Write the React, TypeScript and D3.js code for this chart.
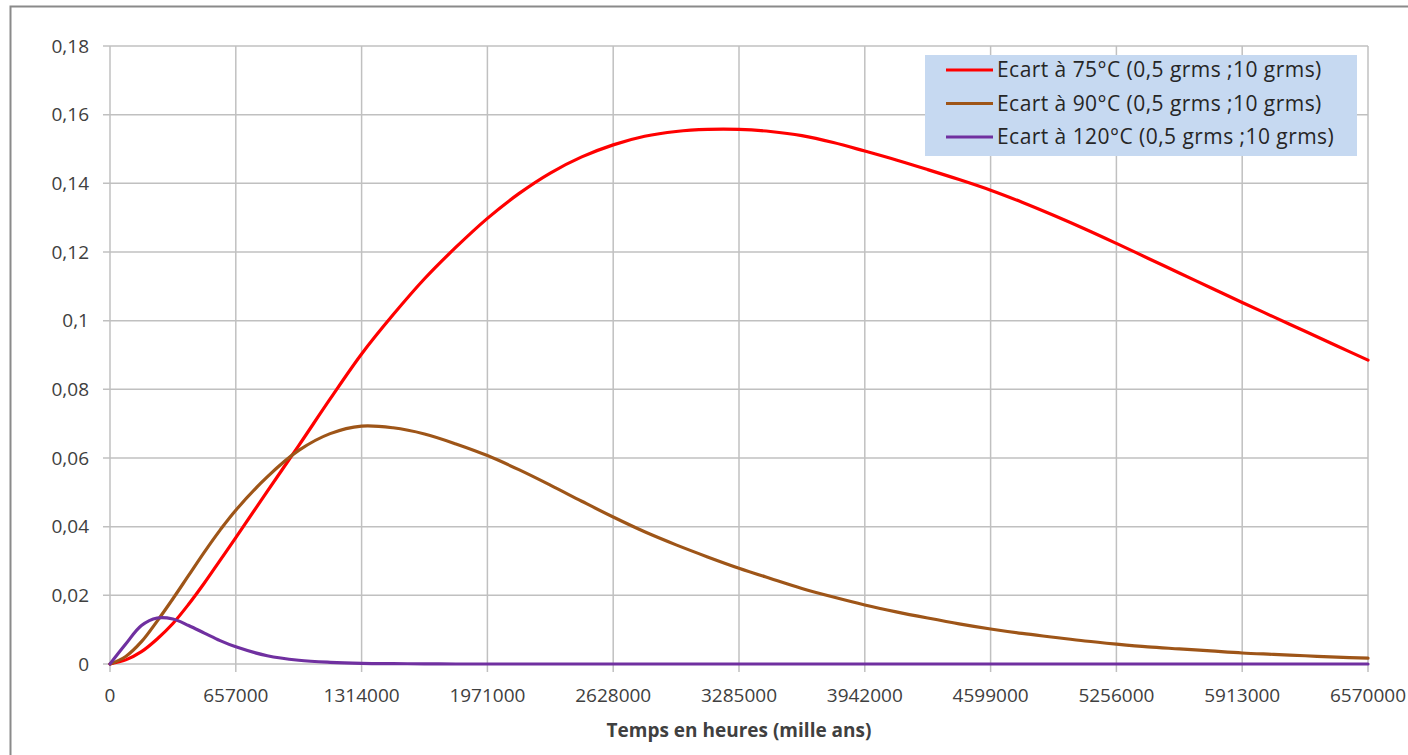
import React from "react";
import * as d3 from "d3";

const times = [0, 82125, 164250, 246375, 328500, 410625, 492750, 574875, 657000, 821250, 985500, 1149750, 1314000, 1478250, 1642500, 1806750, 1971000, 2135250, 2299500, 2463750, 2628000, 2792250, 2956500, 3120750, 3285000, 3449250, 3613500, 3777750, 3942000, 4106250, 4270500, 4434750, 4599000, 4763250, 4927500, 5091750, 5256000, 5420250, 5584500, 5748750, 5913000, 6077250, 6241500, 6405750, 6570000];

const ecart75 = [0, 0.0012, 0.0036, 0.0073, 0.0118, 0.0174, 0.0236, 0.0302, 0.0368, 0.0503, 0.0636, 0.0772, 0.0903, 0.1017, 0.1122, 0.1214, 0.1298, 0.137, 0.143, 0.1477, 0.1512, 0.1537, 0.1551, 0.1557, 0.1557, 0.1551, 0.1539, 0.1519, 0.1494, 0.1468, 0.144, 0.1411, 0.138, 0.1345, 0.1307, 0.1267, 0.1225, 0.1182, 0.1139, 0.1096, 0.1053, 0.1011, 0.0969, 0.0927, 0.0885];

const ecart90 = [0, 0.0022, 0.0065, 0.0125, 0.019, 0.0258, 0.0326, 0.039, 0.0448, 0.0545, 0.0622, 0.0671, 0.0693, 0.0688, 0.067, 0.0641, 0.0607, 0.0566, 0.0521, 0.0474, 0.0428, 0.0385, 0.0347, 0.0312, 0.0279, 0.0249, 0.022, 0.0195, 0.0172, 0.0152, 0.0134, 0.0117, 0.0102, 0.0089, 0.0078, 0.0067, 0.0058, 0.005, 0.0044, 0.0038, 0.0032, 0.0028, 0.0024, 0.002, 0.0017];

const ecart120 = [0, 0.0058, 0.0112, 0.0134, 0.0131, 0.0112, 0.009, 0.0068, 0.005, 0.0024, 0.0011, 0.0005, 0.0002, 0.0001, 0.00005, 0, 0, 0, 0, 0, 0, 0, 0, 0, 0, 0, 0, 0, 0, 0, 0, 0, 0, 0, 0, 0, 0, 0, 0, 0, 0, 0, 0, 0, 0];

const seriesNames = [
  "Ecart à 75°C (0,5 grms ;10 grms)",
  "Ecart à 90°C (0,5 grms ;10 grms)",
  "Ecart à 120°C (0,5 grms ;10 grms)",
];
const seriesColors = ["#ff0000", "#9e5518", "#7030a0"];

const xTickValues = [0, 657000, 1314000, 1971000, 2628000, 3285000, 3942000, 4599000, 5256000, 5913000, 6570000];
const yTickValues = [0, 0.02, 0.04, 0.06, 0.08, 0.1, 0.12, 0.14, 0.16, 0.18];
const xAxisTitle = "Temps en heures (mille ans)";

const FONT = "'Open Sans', Calibri, sans-serif";

export default function App() {
  const W = 1408;
  const H = 755;
  const x = d3.scaleLinear().domain([0, 6570000]).range([110, 1368]);
  const y = d3.scaleLinear().domain([0, 0.18]).range([664, 46]);
  const fr = d3.formatLocale({ decimal: ",", thousands: " ", grouping: [3], currency: ["", "€"] });
  const fy = fr.format("~g");

  const allSeries = [ecart75, ecart90, ecart120];
  const line = d3
    .line<number>()
    .x((_, i) => x(times[i]))
    .y((d) => y(d))
    .curve(d3.curveCatmullRom.alpha(0.5));

  const gridColor = "#c0c0c0";
  const textColor = "#404040";

  return (
    <svg
      width={W}
      height={H}
      style={{ position: "absolute", left: 0, top: 0, background: "#fff" }}
      fontFamily={FONT}
    >
      <rect x={0} y={0} width={W} height={H} fill="#fff" />
      <rect x={10.5} y={6.5} width={W + 20} height={H + 20} fill="none" stroke="#8a8a8a" strokeWidth={2} />

      {yTickValues.map((v) => (
        <line key={"hy" + v} x1={103} x2={x(6570000)} y1={y(v)} y2={y(v)} stroke={gridColor} strokeWidth={1.5} />
      ))}
      {xTickValues.map((v) => (
        <line key={"vx" + v} x1={x(v)} x2={x(v)} y1={y(0.18)} y2={y(0) + 8} stroke={gridColor} strokeWidth={1.5} />
      ))}

      {yTickValues.map((v) => (
        <text key={"ty" + v} x={89} y={y(v)} dy="0.35em" textAnchor="end" fontSize={19} fill={textColor}>
          {v === 0 ? "0" : fy(v)}
        </text>
      ))}
      {xTickValues.map((v) => (
        <text key={"tx" + v} x={x(v)} y={695} dy="0.35em" textAnchor="middle" fontSize={19} fill={textColor}>
          {String(v)}
        </text>
      ))}
      <text x={739} y={730} dy="0.35em" textAnchor="middle" fontSize={19} fontWeight="bold" fill={textColor}>
        {xAxisTitle}
      </text>

      {allSeries.map((s, i) => (
        <path key={"s" + i} d={line(s) || ""} fill="none" stroke={seriesColors[i]} strokeWidth={3.2} strokeLinejoin="round" strokeLinecap="round" />
      ))}

      <rect x={925} y={55} width={432} height={101} fill="#c6d9f1" />
      {seriesNames.map((n, i) => (
        <g key={"lg" + i}>
          <line x1={946} x2={993} y1={70 + i * 33.5} y2={70 + i * 33.5} stroke={seriesColors[i]} strokeWidth={3} />
          <text x={997} y={70 + i * 33.5} dy="0.35em" fontSize={21} letterSpacing={0.45} fill="#262626">
            {n}
          </text>
        </g>
      ))}
    </svg>
  );
}
